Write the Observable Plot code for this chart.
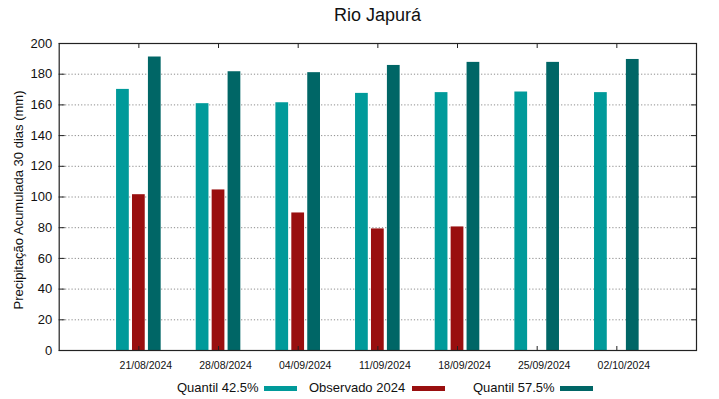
<!DOCTYPE html>
<html>
<head>
<meta charset="utf-8">
<script src="https://cdn.jsdelivr.net/npm/d3@7"></script>
<script src="https://cdn.jsdelivr.net/npm/@observablehq/plot@0.6"></script>
<style>
  html, body { margin: 0; padding: 0; background: #fff; }
  #wrap { position: relative; width: 719px; height: 399px; font-family: "Liberation Sans", Arial, sans-serif; color: #111; overflow: hidden; }
  #title { height: 30px; text-align: center; font-size: 18px; line-height: 30px; padding-left: 36px; box-sizing: border-box; }
  #ylabel { position: absolute; left: 17.5px; top: 200px; transform: translate(-50%, -50%) rotate(-90deg); white-space: nowrap; font-size: 13px; }
  #legend { position: relative; height: 29px; font-size: 13px; }
  .lt { position: absolute; top: 10px; line-height: 16px; white-space: nowrap; }
  .ls { position: absolute; top: 16px; height: 5px; width: 33px; }
  svg { display: block; }
</style>
</head>
<body>
<div id="wrap">
  <div id="title">Rio Japurá</div>
  <div id="chart"></div>
  <div id="legend"></div>
  <div id="ylabel">Precipitação Acumulada 30 dias (mm)</div>
</div>
<script>
const dates = ["21/08/2024","28/08/2024","04/09/2024","11/09/2024","18/09/2024","25/09/2024","02/10/2024"];
const quantil425 = [170.1, 160.8, 161.4, 167.5, 168.0, 168.4, 168.0];
const observado2024 = [101.5, 104.6, 89.6, 79.2, 80.5, null, null];
const quantil575 = [191.2, 181.6, 181.0, 185.7, 187.7, 187.7, 189.6];
const seriesNames = ["Quantil 42.5%", "Observado 2024", "Quantil 57.5%"];
const seriesColors = ["#009a9a", "#990f0f", "#006666"];
const yTicks = [0, 20, 40, 60, 80, 100, 120, 140, 160, 180, 200];
const gridTicks = [20, 40, 60, 80, 100, 120, 140, 160, 180];

const seriesValues = [quantil425, observado2024, quantil575];
const offsets = [-0.2, 0, 0.2];
const halfW = 0.08;
const rows = [];
dates.forEach((d, i) => {
  seriesValues.forEach((vals, s) => {
    if (vals[i] != null) rows.push({i, s: seriesNames[s], off: offsets[s], v: vals[i]});
  });
});
const idx = dates.map((d, i) => i);

const chart = Plot.plot({
  width: 719,
  height: 340,
  marginTop: 13,
  marginBottom: 20,
  marginLeft: 58.7,
  marginRight: 23,
  style: {fontFamily: '"Liberation Sans", Arial, sans-serif', color: "#111", background: "#fff"},
  x: {domain: [-1, 7], axis: null},
  y: {domain: [0, 200], axis: null},
  color: {domain: seriesNames, range: seriesColors},
  marks: [
    Plot.ruleY(gridTicks, {stroke: "#8a8a8a", strokeDasharray: "1.2,2", strokeWidth: 1}),
    Plot.rectY(rows, {
      x1: d => d.i + d.off - halfW,
      x2: d => d.i + d.off + halfW,
      y1: 0,
      y2: "v",
      fill: "s",
      inset: 0
    }),
    Plot.axisY({anchor: "left", ticks: yTicks, tickSize: 0, tickPadding: 7, fontSize: 13, label: null}),
    Plot.axisY({anchor: "right", ticks: yTicks, tickSize: -6, tickFormat: () => "", label: null, stroke: "#222"}),
    Plot.axisY({anchor: "left", ticks: yTicks, tickSize: -6, tickFormat: () => "", label: null, stroke: "#222"}),
    Plot.axisX({anchor: "top", ticks: idx, tickSize: -4, tickFormat: () => "", label: null, stroke: "#222"}),
    Plot.axisX({anchor: "bottom", ticks: idx, tickSize: -4, tickFormat: () => "", label: null, stroke: "#222"}),
    Plot.axisX({anchor: "bottom", ticks: idx, tickSize: 0, tickPadding: 11, tickFormat: i => dates[i], fontSize: 10.5, dx: 7, label: null}),
    Plot.frame({stroke: "#222", strokeWidth: 1.2})
  ]
});
document.getElementById("chart").appendChild(chart);

// legend
const legend = document.getElementById("legend");
const textLeft = [177, 309, 473];
const swatchLeft = [264, 411.5, 559.5];
seriesNames.forEach((name, k) => {
  const t = document.createElement("span");
  t.className = "lt";
  t.style.left = textLeft[k] + "px";
  t.textContent = name;
  legend.appendChild(t);
  const s = document.createElement("span");
  s.className = "ls";
  s.style.left = swatchLeft[k] + "px";
  s.style.background = seriesColors[k];
  legend.appendChild(s);
});
</script>
</body>
</html>
